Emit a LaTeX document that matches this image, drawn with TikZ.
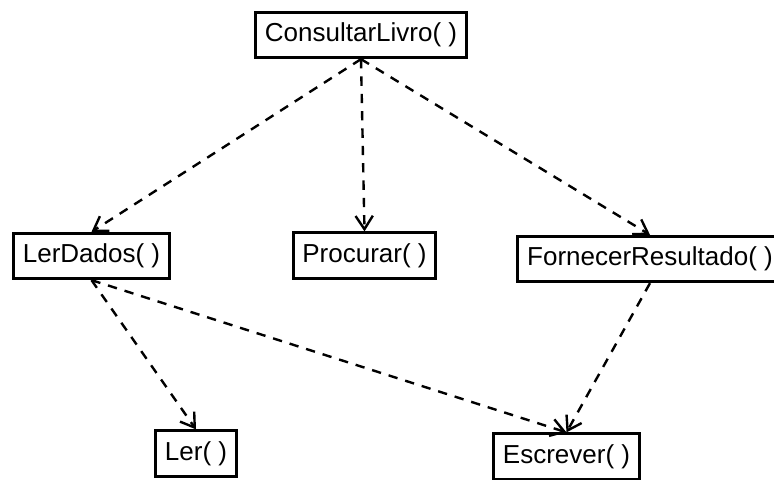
\documentclass[tikz,border=0pt]{standalone}
\usepackage{fontspec}
\setmainfont{Liberation Sans}
\usetikzlibrary{arrows.meta, positioning}

\begin{document}
\begin{tikzpicture}[x=0.75pt, y=-0.75pt,
    method/.style={draw, line width=2.2pt, rectangle, inner xsep=7pt, inner ysep=0pt,
        minimum height=34pt, font=\fontsize{19.5}{22}\selectfont},
    call/.style={line width=1.8pt, dash pattern=on 7pt off 6pt,
        -{Straight Barb[length=10pt, width=13pt, line width=1.8pt]}}]
    \useasboundingbox (0, 0) rectangle (774, 479);

    \node[method] (ConsultarLivro) at (361, 35) {ConsultarLivro( )};
    \node[method] (LerDados) at (91.5, 256) {LerDados( )};
    \node[method] (Procurar) at (364.5, 255.5) {Procurar( )};
    \node[method] (FornecerResultado) at (650, 259) {FornecerResultado( )};
    \node[method] (Ler) at (196, 453.5) {Ler( )};
    \node[method] (Escrever) at (566.5, 456.5) {Escrever( )};

    \draw[call] (ConsultarLivro.south) -- (LerDados.north);
    \draw[call] (ConsultarLivro.south) -- (Procurar.north);
    \draw[call] (ConsultarLivro.south) -- (FornecerResultado.north);
    \draw[call] (LerDados.south) -- (Ler.north);
    \draw[call] (LerDados.south) -- (Escrever.north);
    \draw[call] (FornecerResultado.south) -- (Escrever.north);
\end{tikzpicture}
\end{document}
